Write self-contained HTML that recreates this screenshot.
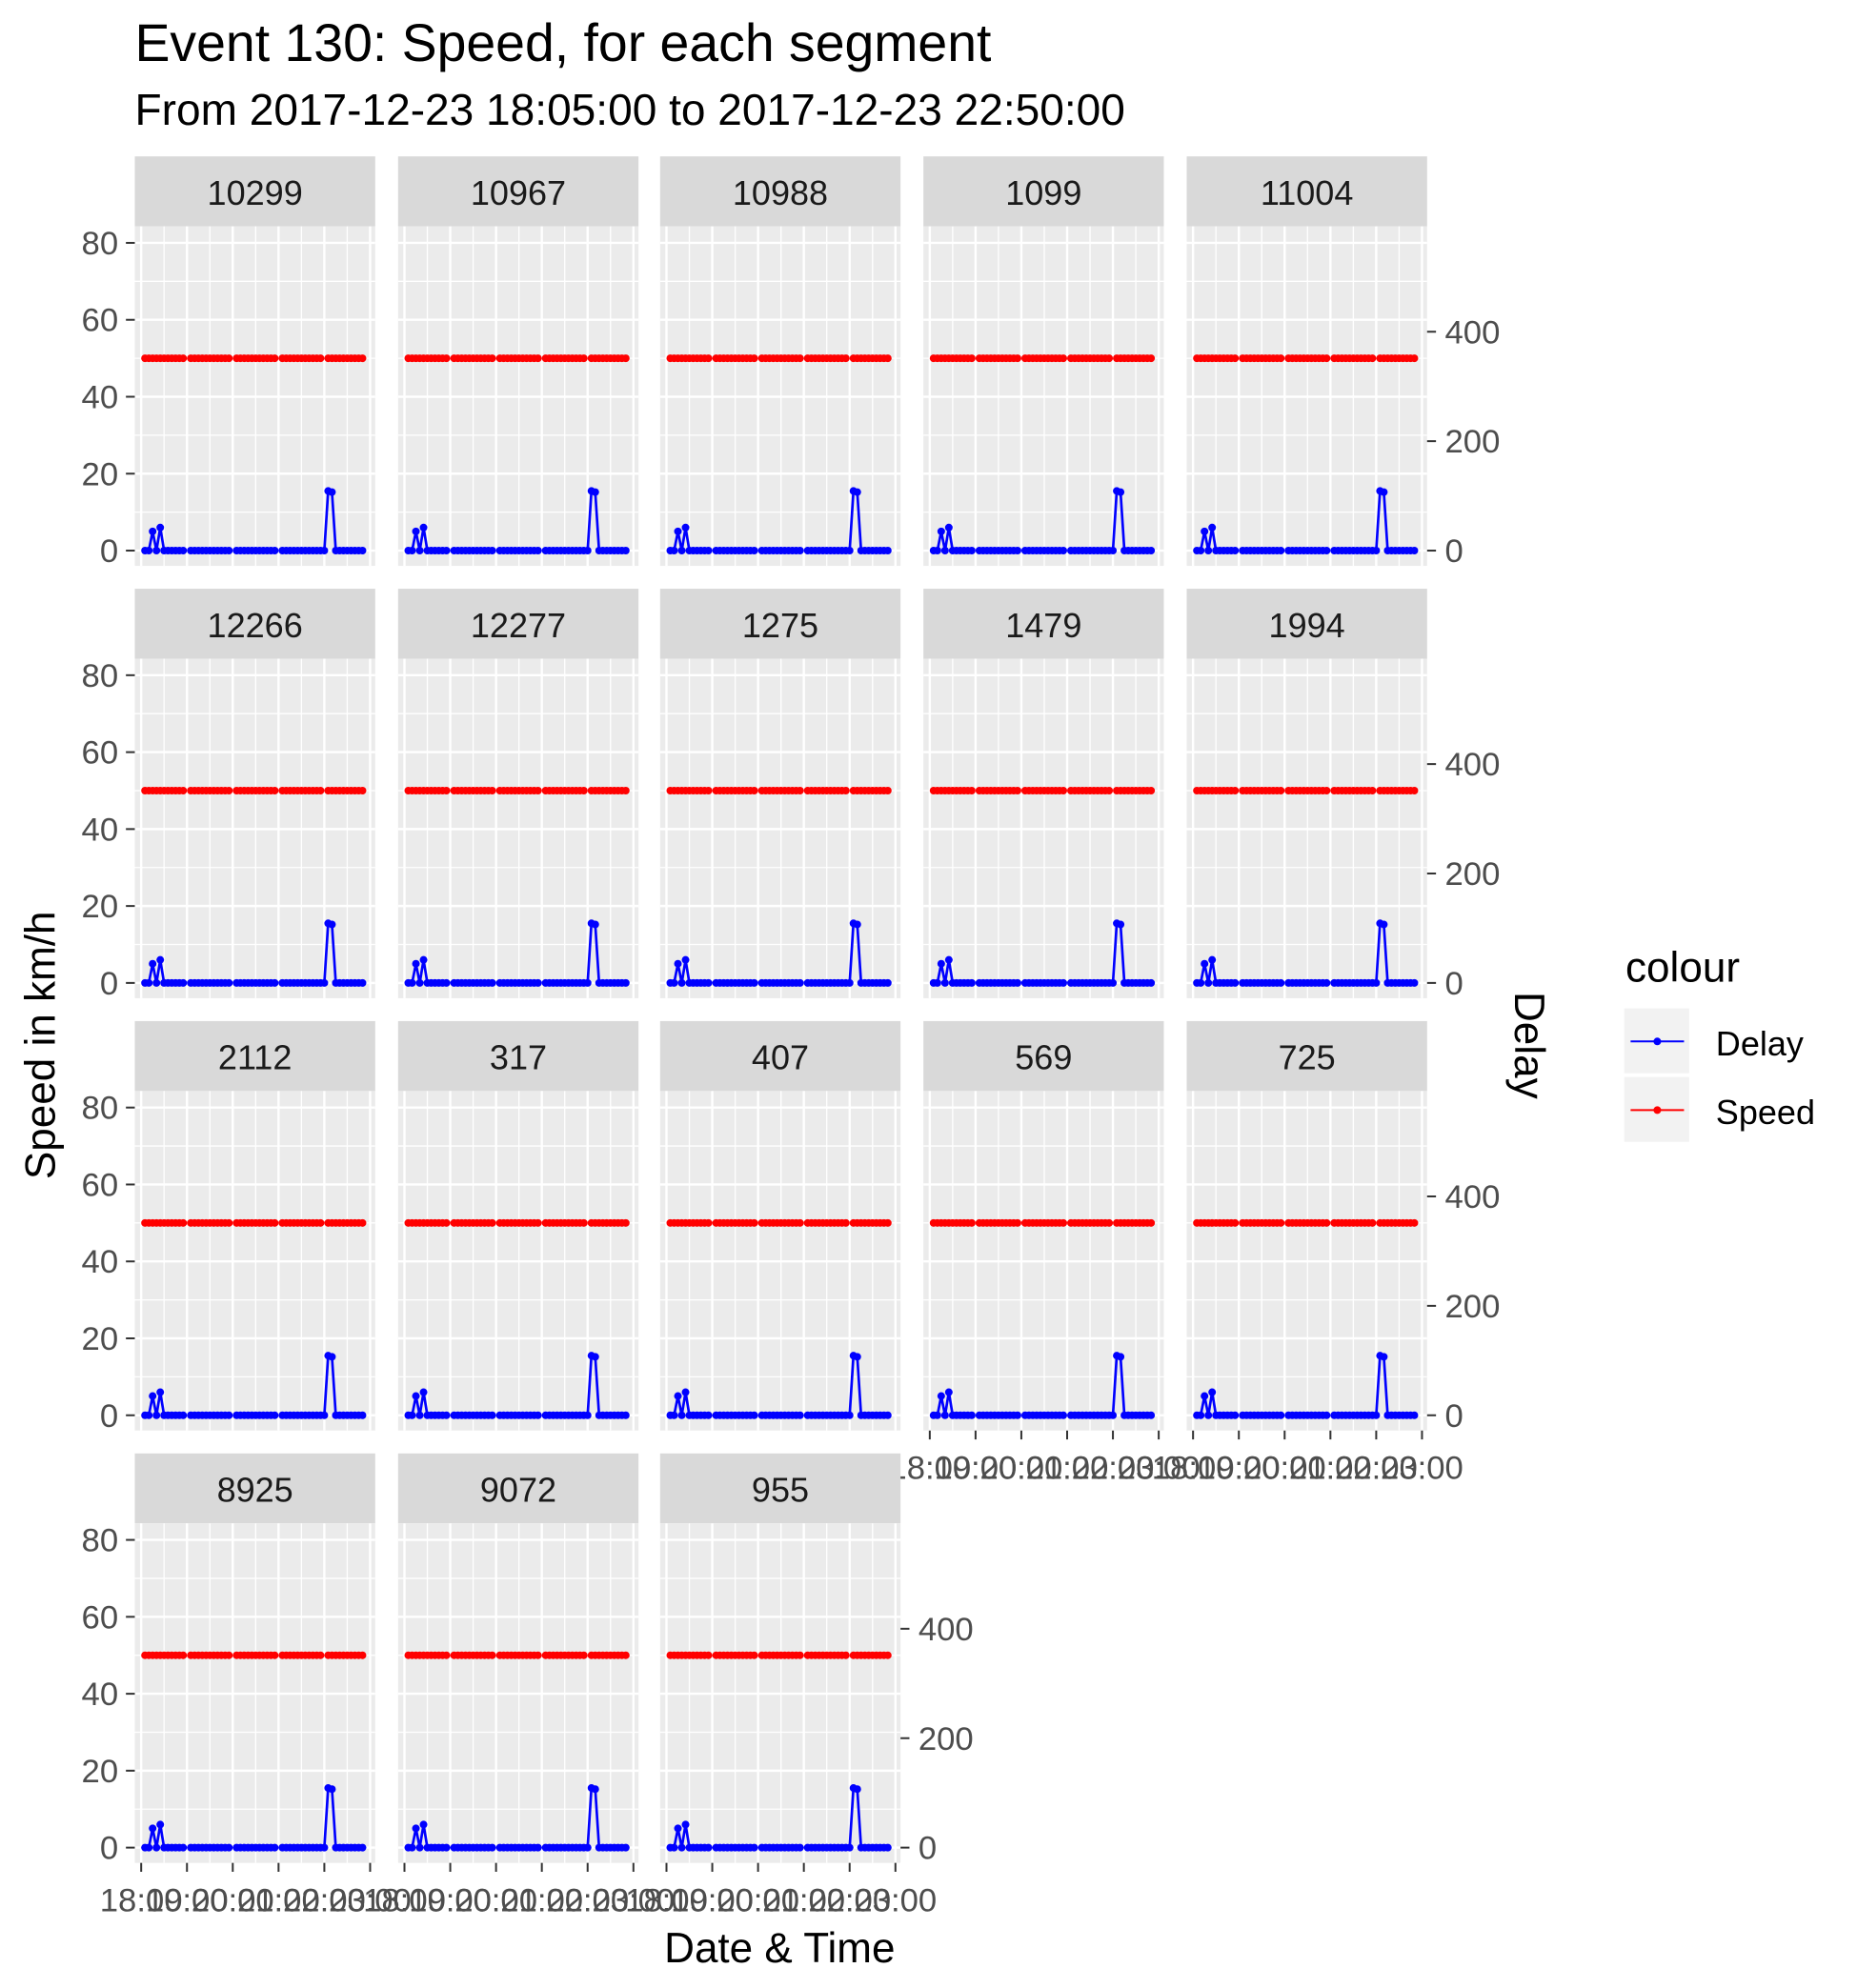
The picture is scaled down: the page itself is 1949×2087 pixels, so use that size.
<!DOCTYPE html>
<html><head><meta charset="utf-8"><style>
html,body{margin:0;padding:0;background:#fff;}
svg{display:block;font-family:"Liberation Sans",Arial,sans-serif;}
</style></head><body>
<svg id="chart" width="1949" height="2087" viewBox="0 0 1460 1563.4" preserveAspectRatio="none" xmlns="http://www.w3.org/2000/svg">
<text x="106" y="48" font-size="41.5" fill="#000">Event 130: Speed, for each segment</text>
<text x="106" y="98" font-size="34.5" fill="#000">From 2017-12-23 18:05:00 to 2017-12-23 22:50:00</text>
<g id="panels"></g>
<text transform="translate(43,822) rotate(-90)" text-anchor="middle" font-size="33" fill="#000">Speed in km/h</text>
<text transform="translate(1191,822) rotate(90)" text-anchor="middle" font-size="33" fill="#000">Delay</text>
<text x="613" y="1543" text-anchor="middle" font-size="33" fill="#000">Date &amp; Time</text>
<g>
<text x="1278" y="772" font-size="33" fill="#000">colour</text>
<g>
<rect x="1277" y="793" width="51" height="51" fill="#f2f2f2"/>
<line x1="1282" y1="819" x2="1324" y2="819" stroke="#00f" stroke-width="1.5"/>
<circle cx="1303" cy="819" r="3" fill="#00f"/>
<text x="1349" y="830" font-size="27" fill="#000">Delay</text></g>
<g>
<rect x="1277" y="847" width="51" height="51" fill="#f2f2f2"/>
<line x1="1282" y1="873" x2="1324" y2="873" stroke="#f00" stroke-width="1.5"/>
<circle cx="1303" cy="873" r="3" fill="#f00"/>
<text x="1349" y="884" font-size="27" fill="#000">Speed</text></g>
</g>
</svg>
<script>
const segments = ["10299","10967","10988","1099","11004","12266","12277","1275","1479","1994","2112","317","407","569","725","8925","9072","955"];
const times = [];
for (let t = 5; t <= 290; t += 5) times.push(t); // minutes after 18:00
const speedValues = times.map(t => (t % 60 === 0 ? null : 50));
const delayValues = [0,0,5,0,6,0,0,0,0,0,0,null,0,0,0,0,0,0,0,0,0,0,0,null,0,0,0,0,0,0,0,0,0,0,0,null,0,0,0,0,0,0,0,0,0,0,0,0,15.5,15.2,0,0,0,0,0,0,0,0];
const yTicks = [0,20,40,60,80];
const delayTicks = [0,200,400];
const xTickLabels = ["18:00","19:00","20:00","21:00","22:00","23:00"];
const delayFactor = 7.03;

const NS = "http://www.w3.org/2000/svg";
const root = document.getElementById("panels");
const colX = [106,313,519,726,933];
const rowY = [123,463,803,1143];
const PW = 189, SH = 55, PH = 267;
function mk(tag, attrs, parent){const e=document.createElementNS(NS,tag);for(const k in attrs)e.setAttribute(k,attrs[k]);parent.appendChild(e);return e;}

segments.forEach((seg, i) => {
  const r = Math.floor(i/5), c = i%5;
  const x0 = colX[c], top = rowY[r], pt = top+SH, pb = pt+PH;
  const xs = t => x0 + 5 + t/60*36;
  const ys = v => pb - 12 - v*3.025;
  const g = mk("g", {}, root);
  
  
  const strip = mk("rect", {x:x0,y:top,width:PW,height:SH,fill:"#d9d9d9"}, g);
  
  
  const st = mk("text", {x:x0+PW/2,y:top+38,"text-anchor":"middle","font-size":27,fill:"#1a1a1a"}, g);
  st.textContent = seg;
  
  
  mk("rect", {x:x0,y:pt,width:PW,height:PH,fill:"#ebebeb"}, g);
  for (let v = -10; v <= 90; v += 10) { const y = ys(v); if (y < pt || y > pb) continue;
    mk("line",{x1:x0,x2:x0+PW,y1:y,y2:y,stroke:"#fff","stroke-width":v%20===0?1.8:1.0},g); }
  for (let m = 0; m <= 300; m += 30) { const x = xs(m); if (x > x0+PW) continue;
    mk("line",{x1:x,x2:x,y1:pt,y2:pb,stroke:"#fff","stroke-width":m%60===0?1.8:1.0},g); }
  function drawSeries(vals, color, name){
    const sg = mk("g", {}, g);
    
    
    let d = "", pen = false;
    vals.forEach((v,k)=>{ if (v===null){pen=false;return;} d += (pen?"L":"M")+xs(times[k]).toFixed(2)+","+ys(v).toFixed(2); pen=true; });
    mk("path",{d:d,fill:"none",stroke:color,"stroke-width":2},sg);
    vals.forEach((v,k)=>{ if (v===null) return;
      const p = mk("circle",{cx:xs(times[k]),cy:ys(v),r:3,fill:color},sg);
      
       });
  }
  drawSeries(speedValues, "#ff0000", "speed");
  drawSeries(delayValues, "#0000ff", "delay");
  if (c === 0) {
    yTicks.forEach(v => { const y = ys(v);
      mk("line",{x1:x0-7,x2:x0,y1:y,y2:y,stroke:"#333","stroke-width":1.5},g);
      const t = mk("text",{x:x0-13,y:y+9,"text-anchor":"end","font-size":26,fill:"#4d4d4d"},g);
      t.textContent = v;
      
       });
  }
  const last = (r < 3 && c === 4) || (r === 3 && c === 2);
  if (last) {
    delayTicks.forEach(v => { const y = ys(v/delayFactor);
      mk("line",{x1:x0+PW,x2:x0+PW+7,y1:y,y2:y,stroke:"#333","stroke-width":1.5},g);
      const t = mk("text",{x:x0+PW+14,y:y+9,"font-size":26,fill:"#4d4d4d"},g);
      t.textContent = v;
      
       });
  }
  if (r === 3 || (r === 2 && c >= 3)) {
    xTickLabels.forEach((lab, k) => { const x = xs(k*60);
      mk("line",{x1:x,x2:x,y1:pb,y2:pb+7,stroke:"#333","stroke-width":1.5},g);
      const t = mk("text",{x:x,y:pb+38,"text-anchor":"middle","font-size":26,fill:"#4d4d4d"},g);
      t.textContent = lab;
      
       });
  }
});
</script>
</body></html>
